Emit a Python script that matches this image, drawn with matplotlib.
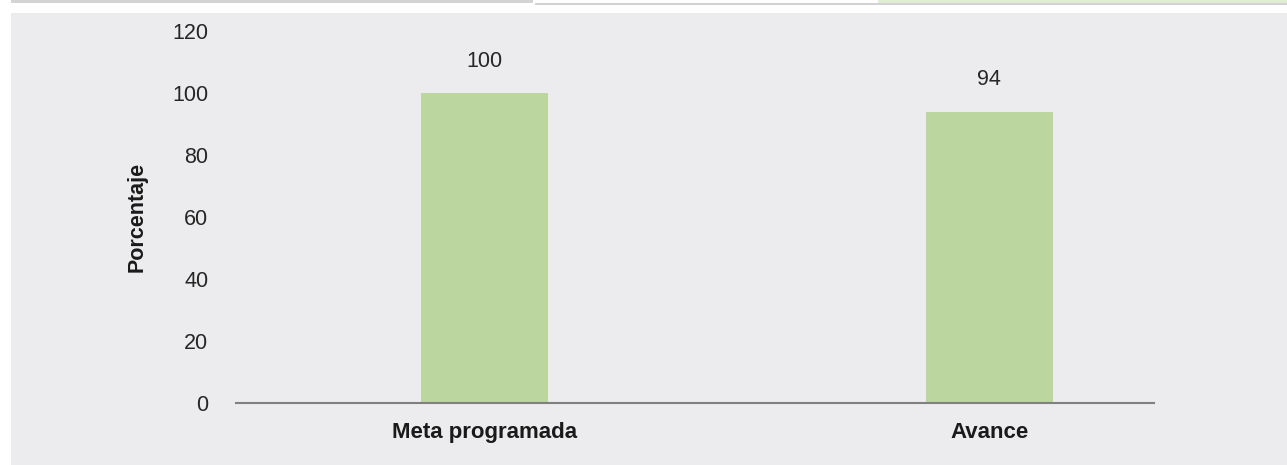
import matplotlib
matplotlib.use("Agg")
import matplotlib.pyplot as plt
from matplotlib.patches import Rectangle

categories = ["Meta programada", "Avance"]
values = [100, 94]
value_labels = ["100", "94"]
yticks = [0, 20, 40, 60, 80, 100, 120]

W, H = 1287, 465
fig = plt.figure(figsize=(W / 100, H / 100), dpi=100)
fig.patch.set_facecolor("white")

def px_rect(x0, y0, x1, y1, color):
    fig.patches.append(Rectangle((x0 / W, 1 - y1 / H), (x1 - x0) / W, (y1 - y0) / H,
                                 transform=fig.transFigure, facecolor=color,
                                 edgecolor="none", zorder=-10))

# background panel and top strips
px_rect(11, 13, W, H, "#ECECEE")
px_rect(11, 0, 533, 3.5, "#D3D3D5")
px_rect(878, 0, W, 3.5, "#E2EDD5")
px_rect(535, 3.5, W, 5, "#D2D2D4")

ax_l, ax_r = 236, 1154
ax_b, ax_t = 403, 31
ax = fig.add_axes([ax_l / W, 1 - ax_b / H, (ax_r - ax_l) / W, (ax_b - ax_t) / H])
ax.set_facecolor("none")
ax.set_zorder(1)

x = [0, 1]
ax.bar(x, values, width=0.2515, color="#BCD69F", zorder=2)
ax.set_xlim(-0.492, 1.326)
ax.set_ylim(0, 120)

for xi, v, lab in zip(x, values, value_labels):
    ax.annotate(lab, (xi, v), xytext=(0, 23), textcoords="offset points",
                ha="center", va="center", fontsize=15.5, color="#262626",
                family="Liberation Sans")

ax.set_xticks(x)
ax.set_xticklabels(categories, fontsize=16, fontweight="bold", color="#1a1a1a",
                   family="Liberation Sans")
ax.set_yticks(yticks)
ax.set_yticklabels([str(t) for t in yticks], fontsize=15.5, color="#262626",
                   family="Liberation Sans")
ax.tick_params(axis="x", length=0, pad=14)
ax.tick_params(axis="y", length=0, pad=20)

for s in ["left", "right", "top"]:
    ax.spines[s].set_visible(False)
ax.spines["bottom"].set_color("#808080")
ax.spines["bottom"].set_linewidth(1.5)

fig.text(137 / W, 1 - 217 / H, "Porcentaje", rotation=90, ha="center", va="center",
         fontsize=15.5, fontweight="bold", color="#1a1a1a", family="Liberation Sans")

fig.savefig("out.png", dpi=100)
